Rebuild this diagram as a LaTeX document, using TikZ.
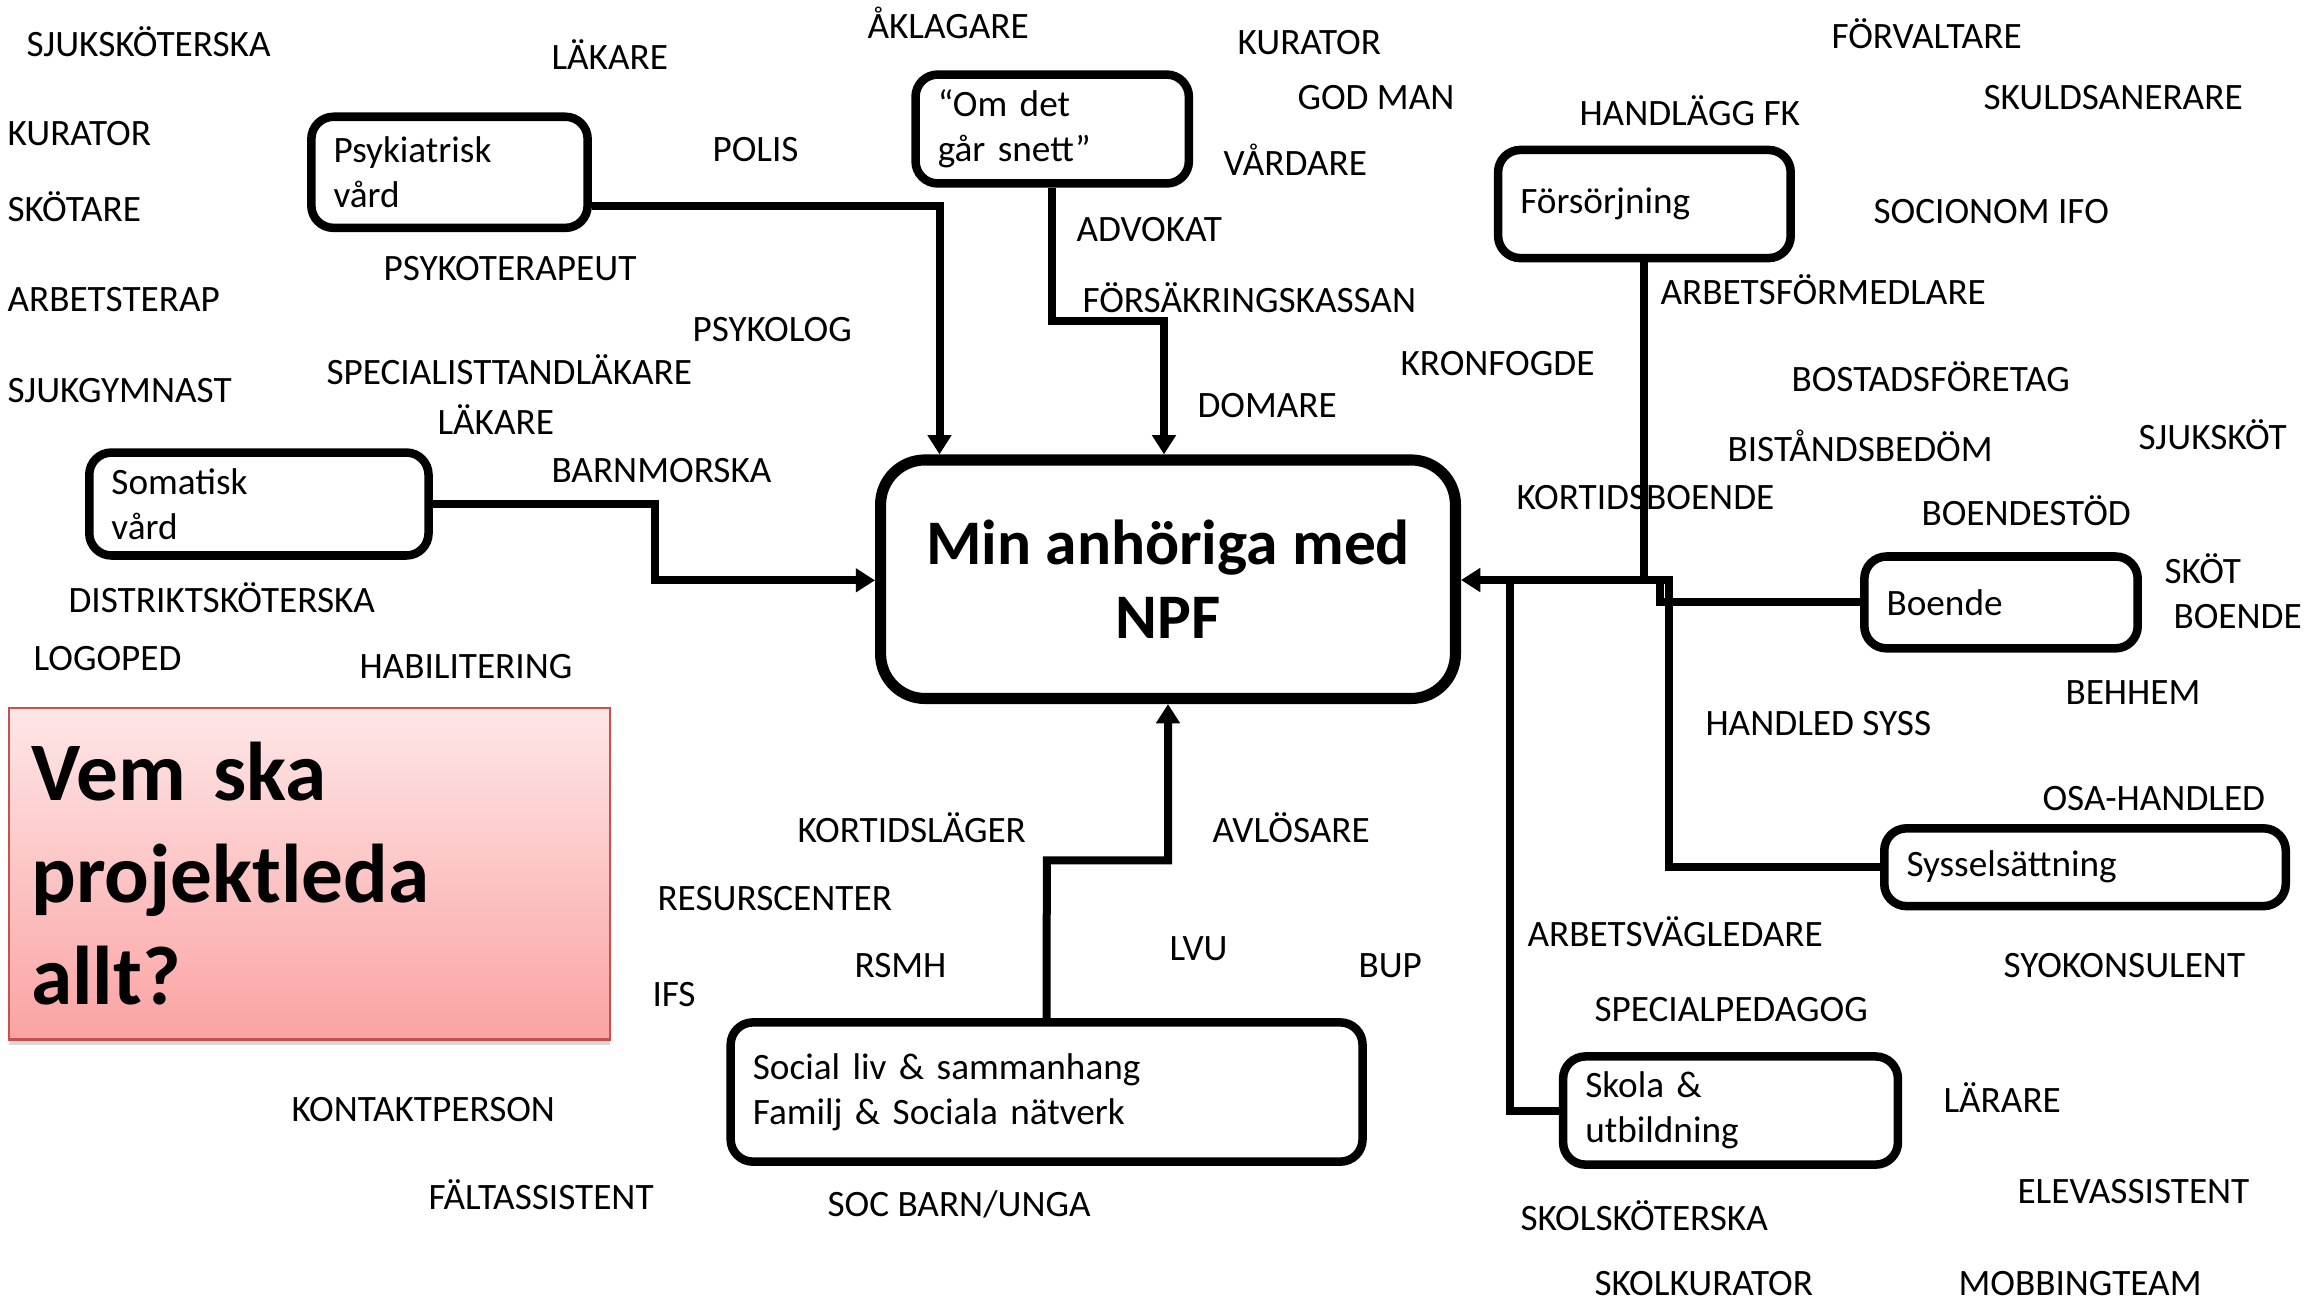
\documentclass[tikz,border=0pt]{standalone}
\usepackage{fontspec}
\setmainfont{Carlito}
\usetikzlibrary{arrows.meta,shadows}
\definecolor{pinktop}{HTML}{FEE6E7}
\definecolor{pinkbot}{HTML}{FBA3A3}
\definecolor{pinkrim}{HTML}{C9504D}
\begin{document}
\begin{tikzpicture}[x=0.135mm,y=-0.135mm,
  box/.style={draw, line width=1.15mm, rounded corners=3mm, inner xsep=3mm, inner ysep=0pt, align=left, font=\fontsize{14.3}{17.4}\selectfont},
  lbl/.style={anchor=base west, inner sep=0pt, font=\fontsize{14.3}{17}\selectfont},
  conn/.style={line width=1.08mm},
  arr/.style={conn, -{Triangle[length=2.6mm,width=3.1mm]}}]
\useasboundingbox (0,0) rectangle (2318,1303);
% the boxes
\node[box, text width=31.3mm, minimum height=15mm] (psyk) at (449.5,172.3) {Psykiatrisk\\vård};
\node[box, text width=30.9mm, minimum height=14.7mm] (omdet) at (1052.2,129) {“Om det\\går snett”};
\node[box, text width=33.5mm, minimum height=14.6mm] (fors) at (1644.4,204) {Försörjning};
\node[box, text width=39.8mm, minimum height=13.9mm] (somatisk) at (258.9,504) {Somatisk\\vård};
\node[box, text width=30.9mm, minimum height=12.4mm] (boende) at (2001,602.4) {Boende};
\node[box, text width=48.2mm, minimum height=10.5mm] (syssel) at (2085,867.2) {Sysselsättning};
\node[box, text width=79.3mm, minimum height=18.8mm] (social) at (1046.6,1092) {Social liv \& sammanhang\\Familj \& Sociala nätverk};
\node[box, text width=39.2mm, minimum height=14.6mm] (skola) at (1730.5,1110.5) {Skola \&\\utbildning};
\node[draw, line width=1.5mm, rounded corners=6mm, minimum width=77.6mm, minimum height=32.2mm, align=center, font=\fontsize{24.4}{28.2}\selectfont\bfseries] (main) at (1168,579.2) {Min anhöriga med\\NPF};
\node[draw=pinkrim, line width=0.3mm, top color=pinktop, bottom color=pinkbot, drop shadow={shadow xshift=0mm, shadow yshift=-0.8mm, opacity=0.3}, minimum height=44.7mm, text width=75.1mm, inner xsep=3mm, align=left, font=\fontsize{32}{39.2}\selectfont\bfseries] (vem) at (309.5,873.9) {Vem ska\\projektleda\\allt?};
% bends
\coordinate (pk) at (939.5,206);
\coordinate (od) at (1164,321.4);
\coordinate (sk) at (654.7,580.3);
\coordinate (sl) at (1046.8,860.3);
\coordinate (hub) at (1669,580);
\coordinate (bh) at (1659.5,580);
\coordinate (sh) at (1510,580);
% connectors
\draw[arr] (psyk.east |- pk) -- (pk) -- (pk |- main.north);
\draw[arr] (omdet.south) |- (od) -- (od |- main.north);
\draw[arr] (somatisk.east) -| (sk) -- (sk -| main.west);
\draw[arr] (social.north) -- (sl) -| (main.south);
\draw[arr] (syssel.west) -| (hub) -- (hub -| main.east);
\draw[conn] (fors.south) -- (fors.south |- hub);
\draw[conn] (boende.west) -| (bh);
\draw[conn] (skola.west) -| (sh);
% all the roles
\foreach \x/\y/\t [count=\i] in {26/56/SJUKSKÖTERSKA, 551/69/LÄKARE, 867/38/ÅKLAGARE, 1237/54/KURATOR,
  1297/109/GOD MAN, 1223/175/VÅRDARE, 1831/48/FÖRVALTARE, 1983/109/SKULDSANERARE,
  1579/125/HANDLÄGG FK, 1873/223/SOCIONOM IFO, 7/145/KURATOR, 7/221/SKÖTARE,
  712/161/POLIS, 1076/241/ADVOKAT, 383/280/PSYKOTERAPEUT, 1082/312/FÖRSÄKRINGSKASSAN,
  1660/304/ARBETSFÖRMEDLARE, 7/311/ARBETSTERAP, 692/341/PSYKOLOG, 1400/375/KRONFOGDE,
  326/384/SPECIALISTTANDLÄKARE, 1791/391/BOSTADSFÖRETAG, 7/402/SJUKGYMNAST, 1197/417/DOMARE,
  437/434/LÄKARE, 2138/449/SJUKSKÖT, 1727/461/BISTÅNDSBEDÖM, 551/482/BARNMORSKA,
  1516/509/KORTIDSBOENDE, 1921/525/BOENDESTÖD, 2164/583/SKÖT, 2173/628/BOENDE,
  68/612/DISTRIKTSKÖTERSKA, 33/670/LOGOPED, 359/678/HABILITERING, 2065/704/BEHHEM,
  1705/735/HANDLED SYSS, 2042/810/OSA-HANDLED, 797/842/KORTIDSLÄGER, 1212/842/AVLÖSARE,
  657/910/RESURSCENTER, 1527/946/ARBETSVÄGLEDARE, 1169/960/LVU, 854/977/RSMH,
  1358/977/BUP, 2003/977/SYOKONSULENT, 652/1006/IFS, 1594/1021/SPECIALPEDAGOG,
  1943/1112/LÄRARE, 291/1121/KONTAKTPERSON, 2017/1203/ELEVASSISTENT, 428/1209/FÄLTASSISTENT,
  827/1216/{SOC BARN/UNGA}, 1520/1230/SKOLSKÖTERSKA, 1594/1295/SKOLKURATOR, 1958/1295/MOBBINGTEAM}
  \node[lbl] (role\i) at (\x,\y) {\t};
\end{tikzpicture}
\end{document}
